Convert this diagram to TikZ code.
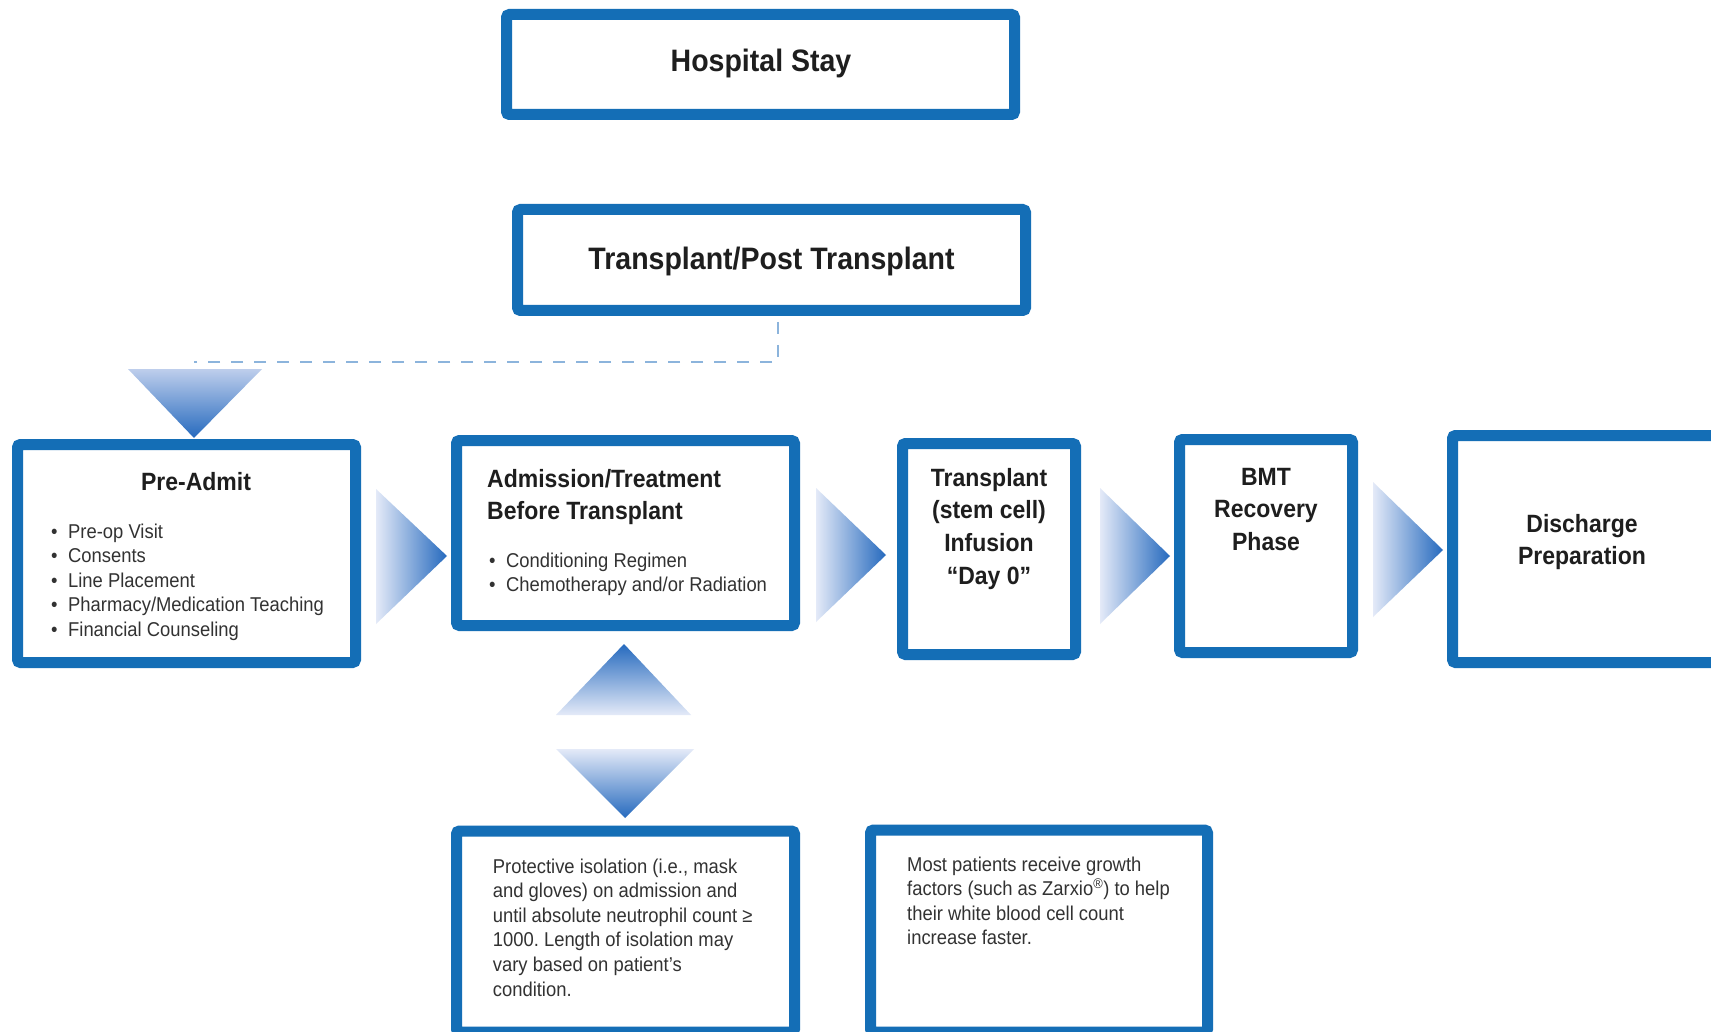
\documentclass[tikz,border=0pt]{standalone}
\usepackage{fontspec}
\setmainfont[FakeStretch=0.92]{Liberation Sans}
\usepackage{tikz}

\definecolor{bmtblau}{RGB}{20,110,182}
\definecolor{pfeilhell}{RGB}{228,234,248}
\definecolor{pfeilmittel}{RGB}{190,206,236}
\definecolor{pfeildunkel}{RGB}{38,106,190}
\definecolor{strichblau}{RGB}{140,180,220}
\definecolor{schrift}{RGB}{30,30,30}
\definecolor{grauschrift}{RGB}{50,50,50}

\newcommand{\pkt}{\makebox[17pt][l]{\textbullet}}

\begin{document}
\begin{tikzpicture}[x=1pt, y=-1pt,
	kasten/.style={draw=bmtblau, line width=11pt, rounded corners=3pt, fill=white, inner sep=0pt},
	titel/.style={font=\bfseries\fontsize{31}{36}\selectfont, text=schrift, anchor=base},
	kopf/.style={font=\bfseries\fontsize{25}{32.7}\selectfont, text=schrift, inner sep=0pt},
	liste/.style={font=\fontsize{20}{24.6}\selectfont, text=grauschrift, align=left, anchor=north west, inner sep=0pt},
	pfeil/.style={left color=pfeilhell, right color=pfeildunkel},
	runter/.style={top color=pfeilhell, bottom color=pfeildunkel},
	rauf/.style={top color=pfeildunkel, bottom color=pfeilhell},
	strichlinie/.style={draw=strichblau, line width=1.8pt, dash pattern=on 12pt off 11pt}]
	\useasboundingbox (0,0) rectangle (1711,1032);
	\fill[white] (0,0) rectangle (1711,1032); % Hintergrund
	
	% oben
	\node[kasten, minimum width=508pt, minimum height=100pt] (hosp) at (760.5,64.5) {};
	\node[titel] (hosptext) at (761,72) {Hospital Stay};
	\node[kasten, minimum width=508pt, minimum height=101pt] (post) at (771.5,260) {};
	\node[titel] (posttext) at (771.5,270) {Transplant/Post Transplant};
	
	\coordinate (knick) at (194,362);
	\draw[strichlinie] ([xshift=6.5pt, yshift=-6pt]post.south) |- (knick);
	
	% Dreiecke
	\shade[top color=pfeilmittel, bottom color=pfeildunkel] (128,369) -- (262,369) -- (194,438) -- cycle;
	\shade[pfeil] (376,489) -- (447,556) -- (376,624) -- cycle;
	\shade[pfeil] (816,488) -- (886,555) -- (816,622) -- cycle;
	\shade[pfeil] (1100,488) -- (1170,556) -- (1100,624) -- cycle;
	\shade[pfeil] (1373,482) -- (1443,550) -- (1373,617) -- cycle;
	\shade[rauf] (624,644) -- (691,715) -- (556,715) -- cycle;
	\shade[runter] (556,749) -- (694,749) -- (625,818) -- cycle;
	
	% Kaesten Mitte
	\node[kasten, minimum width=338pt, minimum height=218pt] (pre) at (186.5,553.5) {};
	\node[kasten, minimum width=338pt, minimum height=185pt] (adm) at (625.5,533) {};
	\node[kasten, minimum width=173pt, minimum height=211pt] (inf) at (989,549) {};
	\node[kasten, minimum width=173pt, minimum height=213pt] (bmt) at (1266,546) {};
	\node[kasten, minimum width=267pt, minimum height=227pt] (dis) at (1586,549) {};
	
	\node[kopf, anchor=base] (pretitel) at (196,490) {Pre-Admit};
	\node[liste, font=\fontsize{20}{24.5}\selectfont] (preliste) at (51,523.4) {\pkt Pre-op Visit\\ \pkt Consents\\ \pkt Line Placement\\ \pkt Pharmacy/Medication Teaching\\ \pkt Financial Counseling};
	\node[kopf, align=left, anchor=north west] (admtitel) at (487,468.7) {Admission/Treatment\\Before Transplant};
	\node[liste, font=\fontsize{20}{24.5}\selectfont] (admliste) at (489,552.4) {\pkt Conditioning Regimen\\ \pkt Chemotherapy and/or Radiation};
	\node[kopf, align=center, anchor=north] (inftext) at (989,467.7) {Transplant\\(stem cell)\\Infusion\\“Day 0”};
	\node[kopf, align=center, anchor=north] (bmttext) at (1266,467.7) {BMT\\Recovery\\Phase};
	\node[kopf, align=center, anchor=north] (distext) at (1582,513.7) {Discharge\\Preparation};
	
	% unten
	\node[kasten, minimum width=338pt, minimum height=201pt] (iso) at (625.5,931.5) {};
	\node[kasten, minimum width=337pt, minimum height=202pt] (grow) at (1039,931) {};
	\node[liste] (isotext) at (492.7,858.4) {Protective isolation (i.e., mask\\and gloves) on admission and\\until absolute neutrophil count ≥\\1000.\ Length of isolation may\\vary based on patient’s\\condition.};
	\node[liste] (growtext) at (907,856.4) {Most patients receive growth\\factors (such as Zarxio\textsuperscript{®}) to help\\their white blood cell count\\increase faster.};
	
	%\draw[help lines] (0,0) grid[step=100] (1711,1032);
\end{tikzpicture}
\end{document}
